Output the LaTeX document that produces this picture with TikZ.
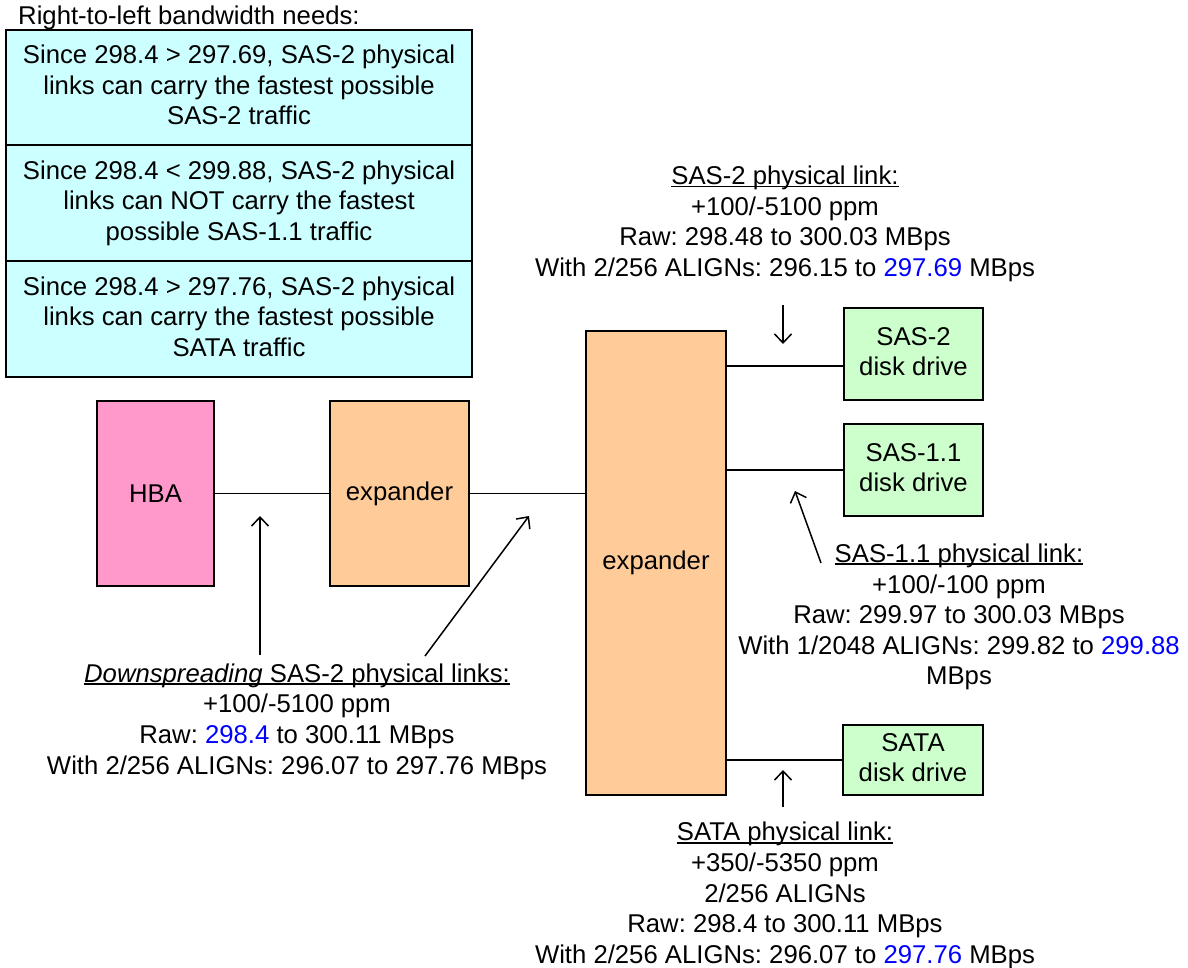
\documentclass[tikz,border=0pt]{standalone}
\usepackage{fontspec}
\setmainfont{Liberation Sans}
\usetikzlibrary{arrows.meta}
\definecolor{cyanfill}{HTML}{CCFFFF}
\definecolor{pinkfill}{HTML}{FF99CC}
\definecolor{orangefill}{HTML}{FFCC99}
\definecolor{greenfill}{HTML}{CCFFCC}
\definecolor{bluetext}{HTML}{0000FF}
\newcommand\myul[1]{\setbox0=\hbox{#1}\rlap{\rule[-2.6pt]{\wd0}{1.6pt}}\box0}
\newcommand\bst{\rule[-5.4pt]{0pt}{24pt}}
\frenchspacing
\begin{document}
\begin{tikzpicture}[x=1pt,y=-1pt,
  every node/.style={font=\fontsize{25.7}{30.6}\selectfont\frenchspacing},
  box/.style={draw, line width=1.8pt, inner sep=0pt, align=center},
  txt/.style={inner sep=0pt, align=center},
  link/.style={line width=1.8pt},
  pointer/.style={line width=1.5pt, -{Straight Barb[length=9pt,width=17pt]}}]
\useasboundingbox (0,0) rectangle (1188,968);

% title and top table
\node[txt, anchor=base west] (title) at (18,25) {Right-to-left bandwidth needs:};
\node[box, fill=cyanfill, minimum width=466pt, minimum height=115pt] (r1) at (239,87.5)
  {\bst Since 298.4 > 297.69, SAS-2 physical\\links can carry the fastest possible\\SAS-2 traffic\bst};
\node[box, fill=cyanfill, minimum width=466pt, minimum height=116pt] (r2) at (239,203)
  {\bst Since 298.4 < 299.88, SAS-2 physical\\links can NOT carry the fastest\\possible SAS-1.1 traffic\bst};
\node[box, fill=cyanfill, minimum width=466pt, minimum height=116pt] (r3) at (239,319)
  {\bst Since 298.4 > 297.76, SAS-2 physical\\links can carry the fastest possible\\SATA traffic\bst};

% devices
\node[box, fill=pinkfill, minimum width=117pt, minimum height=185pt] (hba) at (155.5,493.5) {HBA};
\node[box, fill=orangefill, minimum width=139pt, minimum height=185pt] (exA) at (399.5,493.5) {expander};
\node[box, fill=orangefill, minimum width=140pt, minimum height=464pt] (exB) at (656,563) {expander};
\node[box, fill=greenfill, minimum width=139pt, minimum height=92pt] (d1) at (913.5,354) {\bst SAS-2\\disk drive\bst};
\node[box, fill=greenfill, minimum width=139pt, minimum height=92pt] (d2) at (913.5,470) {\bst SAS-1.1\\disk drive\bst};
\node[box, fill=greenfill, minimum width=140pt, minimum height=70pt] (d3) at (913,760) {\bst SATA\\disk drive\bst};

% links
\coordinate (j1) at (726,366);
\draw[link] (hba.east) -- (exA.west);
\draw[link] (exA.east) -- (exA.east -| exB.west);
\draw[link] (exB.east |- j1) -- (d1.west |- j1);
\draw[link] (d2.west) -- (d2.west -| exB.east);
\draw[link] (d3.west) -- (d3.west -| exB.east);

% labels
\node[txt] (t1) at (785,224)
  {\bst\myul{SAS-2 physical link:}\\+100/-5100 ppm\\Raw: 298.48 to 300.03 MBps\\With 2/256 ALIGNs: 296.15 to \textcolor{bluetext}{297.69} MBps\bst};
\node[txt] (t2) at (959,617)
  {\bst\myul{SAS-1.1 physical link:}\\+100/-100 ppm\\Raw: 299.97 to 300.03 MBps\\With 1/2048 ALIGNs: 299.82 to \textcolor{bluetext}{299.88}\\MBps\bst};
\node[txt] (t3) at (297,721.5)
  {\bst\myul{\textit{Downspreading} SAS-2 physical links:}\\+100/-5100 ppm\\Raw: \textcolor{bluetext}{298.4} to 300.11 MBps\\With 2/256 ALIGNs: 296.07 to 297.76 MBps\bst};
\node[txt] (t4) at (785,895.5)
  {\bst\myul{SATA physical link:}\\+350/-5350 ppm\\2/256 ALIGNs\\Raw: 298.4 to 300.11 MBps\\With 2/256 ALIGNs: 296.07 to \textcolor{bluetext}{297.76} MBps\bst};

% pointers
\coordinate (a1s) at (260,655); \coordinate (a1e) at (260,516);
\coordinate (a2s) at (425,656); \coordinate (a2e) at (529,516);
\coordinate (a3s) at (783,305); \coordinate (a3e) at (783,344);
\coordinate (a4s) at (821,563); \coordinate (a4e) at (795,491);
\coordinate (a5s) at (783,807); \coordinate (a5e) at (783,770);
\draw[pointer] (a1s) -- (a1e);
\draw[pointer] (a2s) -- (a2e);
\draw[pointer] (a3s) -- (a3e);
\draw[pointer] (a4s) -- (a4e);
\draw[pointer] (a5s) -- (a5e);
\end{tikzpicture}
\end{document}
